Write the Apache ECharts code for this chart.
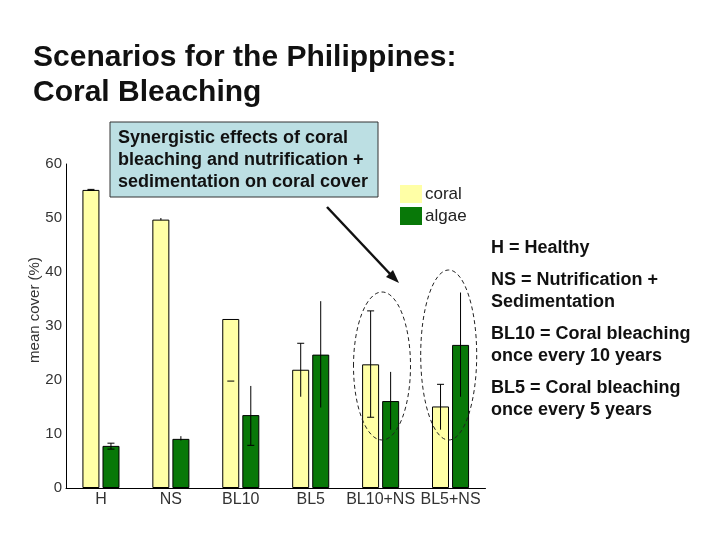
<!DOCTYPE html>
<html>
<head>
<meta charset="utf-8">
<script src="https://cdn.jsdelivr.net/npm/echarts@6/dist/echarts.min.js"></script>
<style>html,body{margin:0;padding:0;background:#fff}#c{width:720px;height:540px}</style>
</head>
<body>
<div id="c"></div>
<script>
const categories = ['H', 'NS', 'BL10', 'BL5', 'BL10+NS', 'BL5+NS'];
const yTicks = [0, 10, 20, 30, 40, 50, 60];
const coral = [55.2, 49.7, 31.3, 21.9, 22.9, 15.1];
const algae = [7.8, 9.1, 13.5, 24.7, 16.1, 26.5];
const coralErrLow = [55.1, 49.6, 19.8, 16.9, 13.1, 10.8];
const coralErrHigh = [55.3, 50.0, 19.8, 26.8, 32.8, 19.2];
const coralCapLow = [1, 0, 1, 0, 1, 0];
const coralCapHigh = [1, 0, 0, 1, 1, 1];
const algaeErrLow = [7.2, 8.8, 7.9, 14.9, 10.8, 16.9];
const algaeErrHigh = [8.3, 9.6, 18.9, 34.6, 21.5, 36.2];
const algaeCapLow = [1, 0, 1, 0, 0, 0];
const algaeCapHigh = [1, 0, 0, 0, 0, 0];

function errData(lo, hi, cl, ch) {
  return categories.map((c, i) => [i, lo[i], hi[i], cl[i], ch[i]]);
}
function errRender(offset) {
  return function (params, api) {
    const i = api.value(0);
    const pLo = api.coord([i, api.value(1)]);
    const pHi = api.coord([i, api.value(2)]);
    const x = pLo[0] + offset;
    const children = [{
      type: 'line',
      shape: {x1: x, y1: pLo[1], x2: x, y2: pHi[1]},
      style: {stroke: '#000', lineWidth: 1}
    }];
    if (api.value(3)) children.push({type: 'line', shape: {x1: x - 3.5, y1: pLo[1], x2: x + 3.5, y2: pLo[1]}, style: {stroke: '#000', lineWidth: 1}});
    if (api.value(4)) children.push({type: 'line', shape: {x1: x - 3.5, y1: pHi[1], x2: x + 3.5, y2: pHi[1]}, style: {stroke: '#000', lineWidth: 1}});
    return {type: 'group', children: children};
  };
}

const chart = echarts.init(document.getElementById('c'));
const font = 'Liberation Sans, Arial, sans-serif';
const boldFont = 'bold 18px Liberation Sans, Arial, sans-serif';
chart.setOption({
  backgroundColor: '#fff',
  animation: false,
  textStyle: {fontFamily: font},
  title: {
    text: 'Scenarios for the Philippines:\nCoral Bleaching',
    left: 28, top: 35,
    textStyle: {fontSize: 30, fontWeight: 'bold', color: '#111', lineHeight: 35, fontFamily: font}
  },
  legend: {
    orient: 'vertical', left: 395, top: 180,
    itemWidth: 22, itemHeight: 18, itemGap: 4,
    icon: 'rect',
    itemStyle: {borderWidth: 0},
    textStyle: {fontSize: 17, color: '#222', padding: [0, 0, 0, -2]},
    data: ['coral', 'algae']
  },
  grid: {left: 66, top: 164, right: 234.5, bottom: 52},
  xAxis: {
    type: 'category', data: categories,
    axisLine: {lineStyle: {color: '#000', width: 1}},
    axisTick: {show: false},
    axisLabel: {fontSize: 16, color: '#333', margin: 4, interval: 0}
  },
  yAxis: {
    type: 'value', min: yTicks[0], max: yTicks[yTicks.length - 1], interval: 10,
    axisLine: {show: true, lineStyle: {color: '#000', width: 1}},
    axisTick: {show: false},
    splitLine: {show: false},
    axisLabel: {fontSize: 15, color: '#333', margin: 4}
  },
  series: [
    {name: 'coral', type: 'bar', data: coral, barWidth: 17, barGap: '18%',
     itemStyle: {color: '#ffffa6', borderColor: '#000', borderWidth: 1}},
    {name: 'algae', type: 'bar', data: algae, barWidth: 17,
     itemStyle: {color: '#087808', borderColor: '#000', borderWidth: 1}},
    {type: 'custom', renderItem: errRender(-10), data: errData(coralErrLow, coralErrHigh, coralCapLow, coralCapHigh), z: 5, silent: true},
    {type: 'custom', renderItem: errRender(10), data: errData(algaeErrLow, algaeErrHigh, algaeCapLow, algaeCapHigh), z: 5, silent: true}
  ],
  graphic: [
    {type: 'text', x: 35, y: 310, rotation: Math.PI / 2, z: 11,
     style: {text: 'mean cover (%)', font: '15px Liberation Sans, Arial, sans-serif', fill: '#333', align: 'center', verticalAlign: 'middle'}},
    {type: 'rect', shape: {x: 110, y: 122, width: 268, height: 75},
     style: {fill: '#bcdfe3', stroke: '#333', lineWidth: 1}, z: 10},
    {type: 'text', x: 118, y: 127, z: 11,
     style: {text: 'Synergistic effects of coral\nbleaching and nutrification +\nsedimentation on coral cover',
       font: boldFont, fill: '#111', lineHeight: 22}},
    {type: 'line', shape: {x1: 327, y1: 207, x2: 392, y2: 276}, style: {stroke: '#111', lineWidth: 2.5}, z: 10},
    {type: 'polygon', shape: {points: [[399, 283], [386, 277], [393, 270]]}, style: {fill: '#111'}, z: 10},
    {type: 'ellipse', shape: {cx: 382, cy: 366, rx: 28.5, ry: 74},
     style: {fill: 'none', stroke: '#222', lineWidth: 1, lineDash: [4, 3]}, z: 10},
    {type: 'ellipse', shape: {cx: 448.7, cy: 355, rx: 28, ry: 85},
     style: {fill: 'none', stroke: '#222', lineWidth: 1, lineDash: [4, 3]}, z: 10},
    {type: 'text', x: 491, y: 239, z: 11,
     style: {text: 'H = Healthy', font: boldFont, fill: '#111'}},
    {type: 'text', x: 491, y: 269, z: 11,
     style: {text: 'NS = Nutrification +\nSedimentation', font: boldFont, fill: '#111', lineHeight: 22}},
    {type: 'text', x: 491, y: 323, z: 11,
     style: {text: 'BL10 = Coral bleaching\nonce every 10 years', font: boldFont, fill: '#111', lineHeight: 22}},
    {type: 'text', x: 491, y: 377, z: 11,
     style: {text: 'BL5 = Coral bleaching\nonce every 5 years', font: boldFont, fill: '#111', lineHeight: 22}}
  ]
});
</script>
</body>
</html>
